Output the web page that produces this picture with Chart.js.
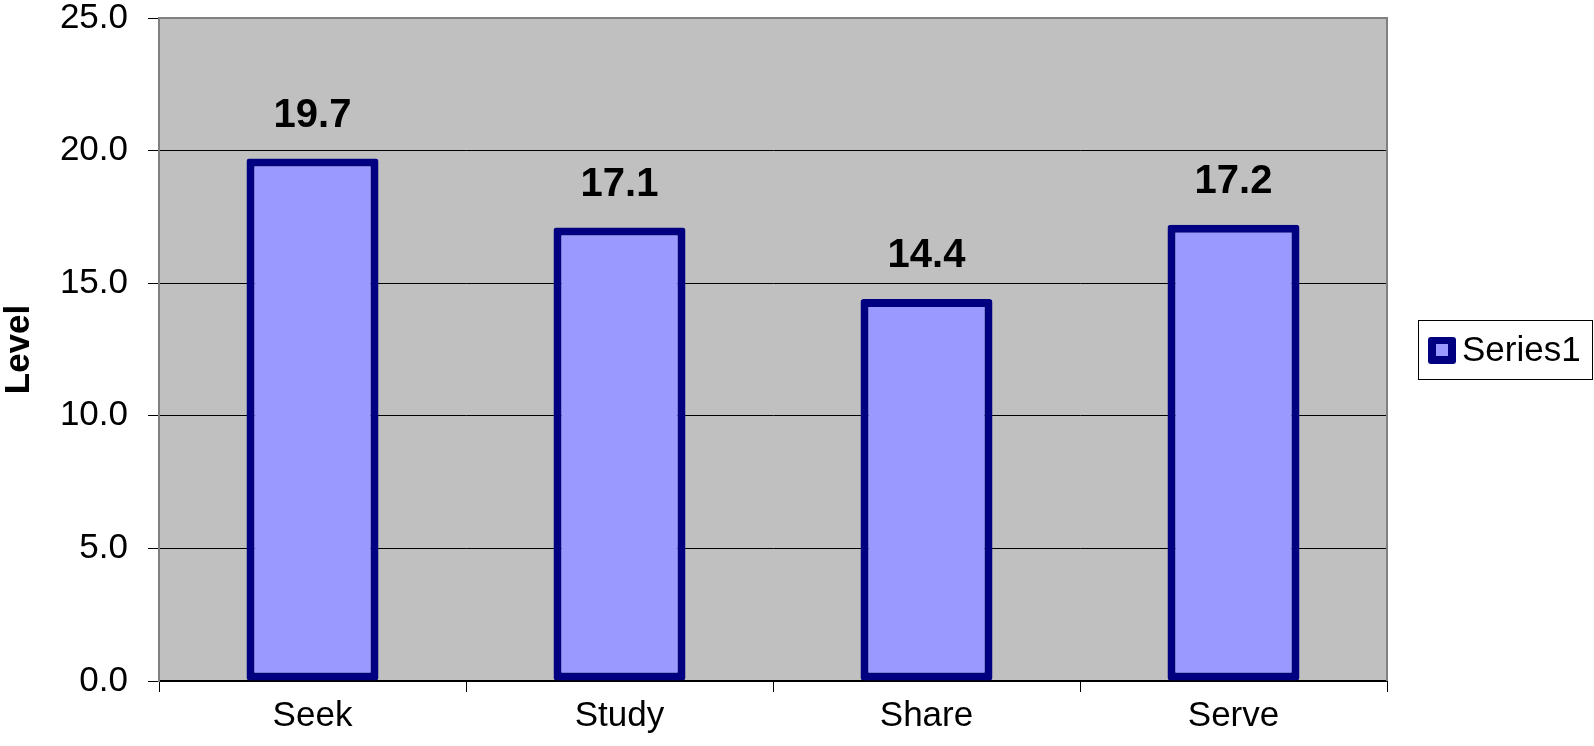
<!DOCTYPE html>
<html>
<head>
<meta charset="utf-8">
<title>Level</title>
<script src="https://cdn.jsdelivr.net/npm/chart.js@4.4.1/dist/chart.umd.min.js"></script>
<style>
  html, body { margin: 0; padding: 0; background: #fff; }
  #wrap { width: 1594px; height: 746px; }
</style>
</head>
<body>
<div id="wrap"><canvas id="myChart" width="1594" height="746"></canvas></div>
<script>
var categories = ['Seek', 'Study', 'Share', 'Serve'];
var levels = [19.7, 17.1, 14.4, 17.2];
var seriesName = 'Series1';
var axisTitle = 'Level';
var yMin = 0, yMax = 25, yStep = 5;

var FONT = "'Liberation Sans', Arial, sans-serif";
var NAVY = '#000080';
var LILAC = '#9999FF';

// grey plot area + right border, like the old spreadsheet look
var plotArea = {
    id: 'plotArea',
    beforeDraw: function (chart) {
        var a = chart.chartArea, c = chart.ctx;
        c.save();
        c.fillStyle = '#C0C0C0';
        c.fillRect(a.left, a.top, a.right - a.left, a.bottom - a.top);
        c.restore();
    },
    afterDraw: function (chart) {
        var a = chart.chartArea, c = chart.ctx;
        c.save();
        c.strokeStyle = '#808080';
        c.lineWidth = 2;
        c.beginPath();
        c.moveTo(a.left, a.top);
        c.lineTo(a.right, a.top);
        c.lineTo(a.right, a.bottom);
        c.stroke();
        c.restore();
    }
};

// value labels above each bar
var valueLabels = {
    id: 'valueLabels',
    afterDatasetsDraw: function (chart) {
        var c = chart.ctx;
        var meta = chart.getDatasetMeta(0);
        var data = chart.data.datasets[0].data;
        c.save();
        c.font = 'bold 40px ' + FONT;
        c.fillStyle = '#000';
        c.textAlign = 'center';
        c.textBaseline = 'alphabetic';
        meta.data.forEach(function (bar, i) {
            c.fillText(data[i].toFixed(1), bar.x, bar.y - 32);
        });
        c.restore();
    }
};

// boxed legend on the right
var boxLegend = {
    id: 'boxLegend',
    afterDraw: function (chart) {
        var a = chart.chartArea, c = chart.ctx;
        var ds = chart.data.datasets[0];
        var x = a.right + 31;
        var mid = Math.round((a.top + a.bottom) / 2);
        c.save();
        c.strokeStyle = '#000';
        c.lineWidth = 1;
        c.strokeRect(x + 0.5, mid - 29.5, 174, 59);
        c.fillStyle = ds.borderColor;
        c.beginPath();
        c.roundRect(x + 10, mid - 13, 28, 27, 3);
        c.fill();
        c.fillStyle = ds.backgroundColor;
        c.fillRect(x + 18, mid - 6, 12, 12);
        c.fillStyle = '#000';
        c.font = '35px ' + FONT;
        c.textAlign = 'left';
        c.textBaseline = 'middle';
        c.fillText(ds.label, x + 44, mid + 1);
        c.restore();
    }
};

var ctx = document.getElementById('myChart').getContext('2d');
var myChart = new Chart(ctx, {
    type: 'bar',
    data: {
        labels: categories,
        datasets: [{
            label: seriesName,
            data: levels,
            backgroundColor: LILAC,
            borderColor: NAVY,
            borderWidth: 8,
            borderSkipped: false,
            borderRadius: 3,
            barPercentage: 0.43,
            categoryPercentage: 1
        }]
    },
    options: {
        responsive: false,
        animation: false,
        devicePixelRatio: 1,
        layout: { padding: { top: 18, right: 207, bottom: 0, left: 0 } },
        plugins: {
            legend: { display: false },
            tooltip: { enabled: false }
        },
        scales: {
            x: {
                offset: true,
                grid: {
                    offset: true,
                    drawOnChartArea: false,
                    tickLength: 11,
                    color: '#000',
                    tickColor: '#000'
                },
                border: { color: '#000', width: 2 },
                ticks: {
                    color: '#000',
                    padding: 3,
                    font: { family: FONT, size: 35 }
                },
                afterFit: function (s) { s.height = 65; }
            },
            y: {
                min: yMin,
                max: yMax,
                grid: {
                    color: '#000',
                    tickColor: '#000',
                    lineWidth: 1,
                    tickLength: 11
                },
                border: { color: '#808080', width: 2 },
                ticks: {
                    stepSize: yStep,
                    color: '#000',
                    padding: 20,
                    font: { family: FONT, size: 35 },
                    callback: function (v) { return Number(v).toFixed(1); }
                },
                title: {
                    display: true,
                    text: axisTitle,
                    color: '#000',
                    padding: 0,
                    font: { family: FONT, size: 35, weight: 'bold', lineHeight: 1.1 }
                },
                afterFit: function (s) {
                    s.width = 159;
                    s.paddingTop = 0;
                    s.paddingBottom = 0;
                }
            }
        }
    },
    plugins: [plotArea, valueLabels, boxLegend]
});
</script>
</body>
</html>
